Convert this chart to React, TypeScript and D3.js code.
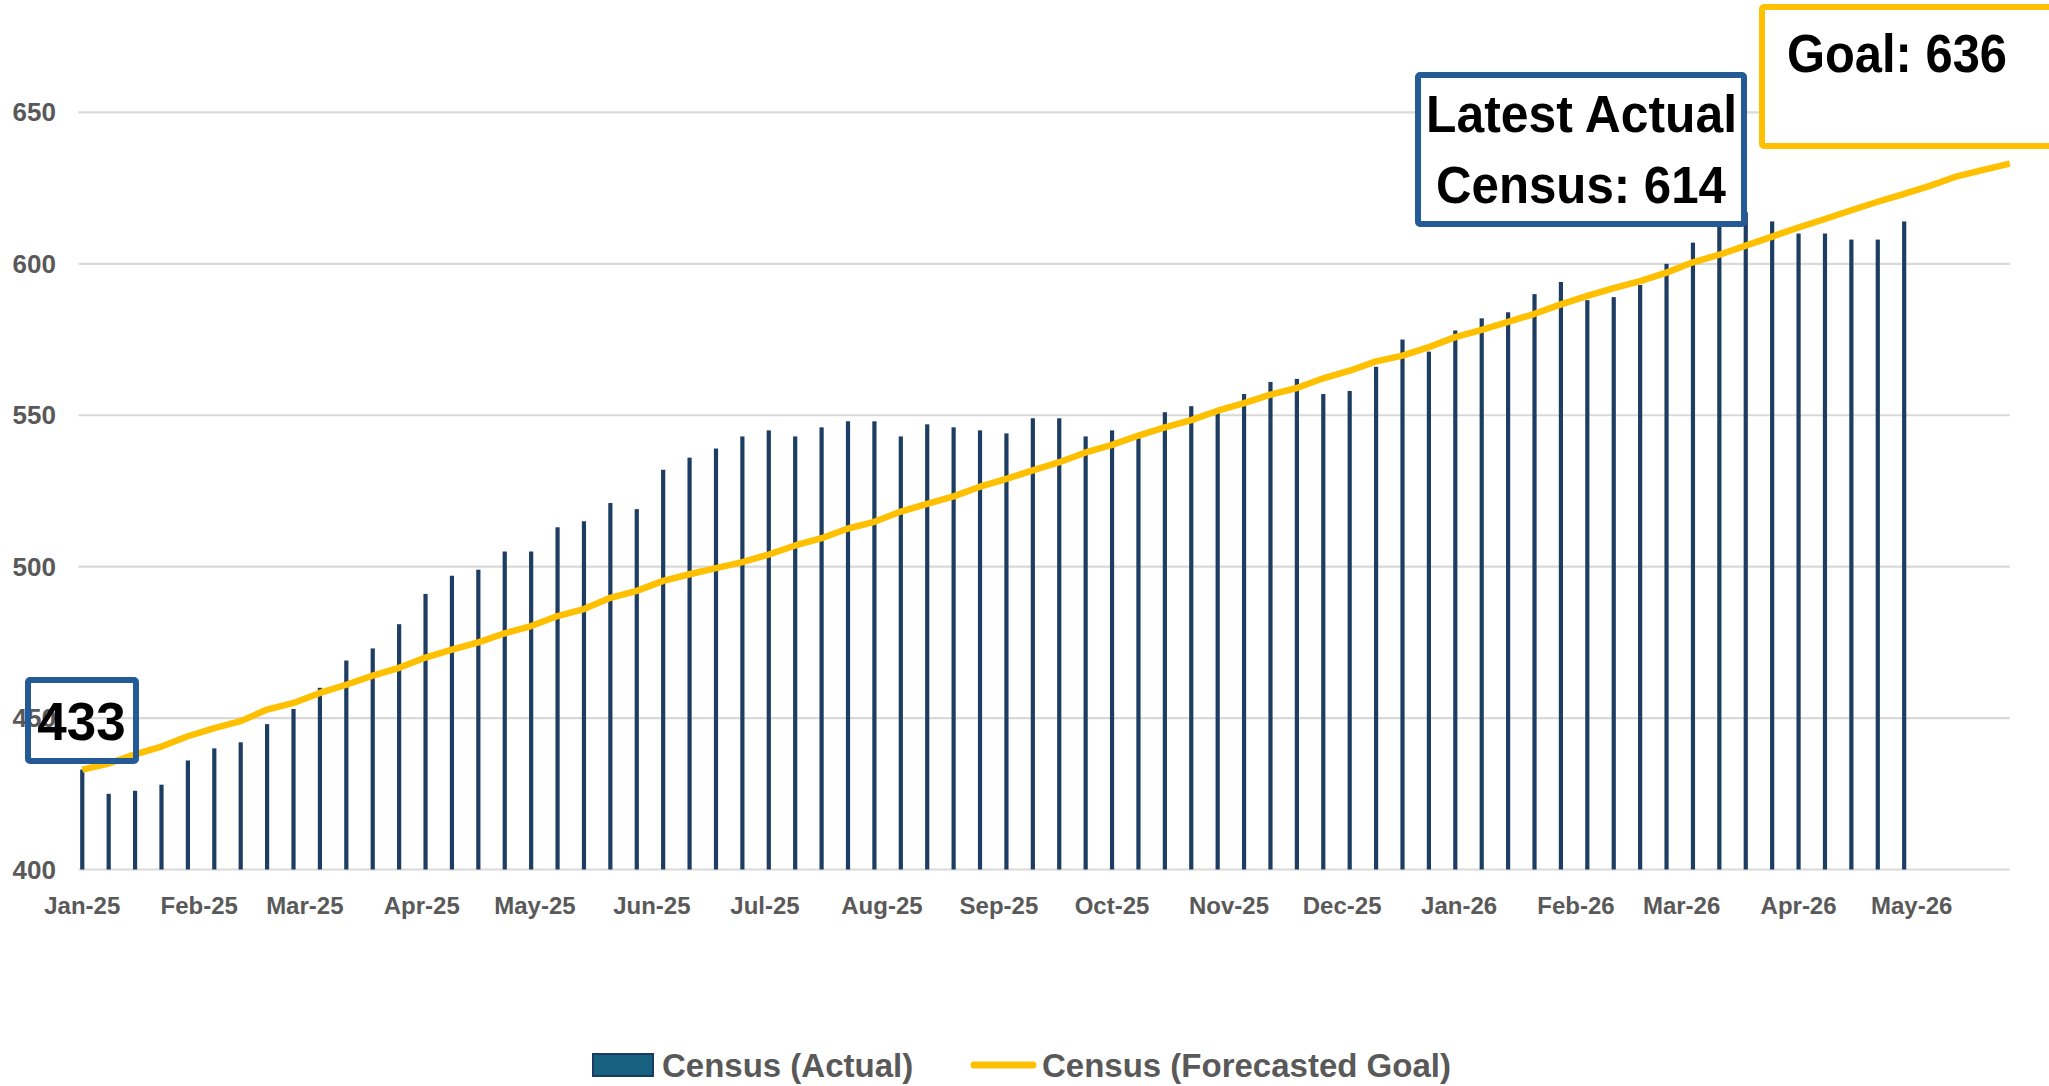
import React from "react";
import * as d3 from "d3";

const W = 2049;
const H = 1086;

// Weekly categories start (first week) and tick labels
const startDate = "2025-01-01";
const weekCount = 74;
const tickMonths = [
  "2025-01-01", "2025-02-01", "2025-03-01", "2025-04-01", "2025-05-01", "2025-06-01",
  "2025-07-01", "2025-08-01", "2025-09-01", "2025-10-01", "2025-11-01", "2025-12-01",
  "2026-01-01", "2026-02-01", "2026-03-01", "2026-04-01", "2026-05-01",
];
const tickLabels = [
  "Jan-25", "Feb-25", "Mar-25", "Apr-25", "May-25", "Jun-25", "Jul-25", "Aug-25",
  "Sep-25", "Oct-25", "Nov-25", "Dec-25", "Jan-26", "Feb-26", "Mar-26", "Apr-26", "May-26",
];
const yTicks = [400, 450, 500, 550, 600, 650];

// Census (Actual) weekly
const actual = [
  433, 425, 426, 428, 436, 440, 442, 448, 453, 460,
  469, 473, 481, 491, 497, 499, 505, 505, 513, 515,
  521, 519, 532, 536, 539, 543, 545, 543, 546, 548,
  548, 543, 547, 546, 545, 544, 549, 549, 543, 545,
  544, 551, 553, 552, 557, 561, 562, 557, 558, 566,
  575, 571, 578, 582, 584, 590, 594, 588, 589, 593,
  600, 607, 616, 617, 614, 610, 610, 608, 608, 614,
];

// Census (Forecasted Goal) weekly
const goal = [
  433, 435, 438, 440.6, 444, 446.7, 449, 452.8, 455, 458.3,
  461, 464, 466.6, 470, 472.6, 475, 478, 480.4, 483.7, 486,
  489.7, 492, 495.3, 497.5, 499.5, 501.5, 504, 507, 509.4, 512.6,
  514.8, 518.2, 520.7, 523.2, 526.4, 529, 531.8, 534.5, 537.7, 540.2,
  543.3, 546, 548.4, 551.5, 554, 556.8, 559, 562.2, 564.7, 567.8,
  569.7, 572.5, 575.8, 578.2, 580.8, 583.5, 586.6, 589.4, 592, 594.3,
  597.1, 600.5, 603, 606, 609, 612, 614.8, 617.7, 620.5, 623.1,
  625.8, 628.9, 631, 633.1,
];

const legendLabels = ["Census (Actual)", "Census (Forecasted Goal)"];
const startLabel = "433";
const latestLabel = ["Latest Actual", "Census: 614"];
const goalLabel = "Goal: 636";

const FONT = "'Liberation Sans', Arial, sans-serif";
const GRAY = "#595959";
const NAVY = "#1D3D63";
const GOLD = "#FFC000";
const BOXBLUE = "#245B97";

export default function App() {
  const parse = d3.utcParse("%Y-%m-%d");
  const d0 = parse(startDate) as Date;
  const dates = d3.range(weekCount).map((i) => d3.utcDay.offset(d0, i * 7));

  const x = d3
    .scaleUtc()
    .domain([d3.utcDay.offset(d0, -1), d3.utcDay.offset(d0, 511.3)])
    .range([78.5, 2009.8]);
  const y = d3.scaleLinear().domain([400, 650]).range([869.5, 112.4]);

  const line = d3
    .line<number>()
    .x((_, i) => x(dates[i]))
    .y((v) => y(v));

  const barW = 4.2;

  return (
    <svg
      width={W}
      height={H}
      style={{ position: "absolute", left: 0, top: 0, background: "#fff" }}
      fontFamily={FONT}
    >
      <rect x={0} y={0} width={W} height={H} fill="#fff" />
      {/* gridlines */}
      {yTicks.map((t) => (
        <line key={t} x1={78.5} x2={2009.8} y1={y(t)} y2={y(t)} stroke="#D9D9D9" strokeWidth={2.2} />
      ))}
      {/* y labels */}
      {yTicks.map((t) => (
        <text
          key={"yl" + t}
          x={56}
          y={y(t) + 9}
          textAnchor="end"
          fontSize={26}
          fontWeight="bold"
          fill={GRAY}
        >
          {t}
        </text>
      ))}
      {/* x labels */}
      {tickMonths.map((m, i) => (
        <text
          key={m}
          x={x(parse(m) as Date)}
          y={914}
          textAnchor="middle"
          fontSize={24}
          fontWeight="bold"
          fill={GRAY}
        >
          {tickLabels[i]}
        </text>
      ))}
      {/* bars */}
      {actual.map((v, i) => (
        <rect
          key={"b" + i}
          x={x(dates[i]) - barW / 2}
          y={y(v)}
          width={barW}
          height={y(400) - y(v)}
          fill={NAVY}
        />
      ))}
      {/* goal line */}
      <path
        d={line(goal) || ""}
        fill="none"
        stroke={GOLD}
        strokeWidth={6.5}
        strokeLinejoin="round"
      />
      {/* start label box */}
      <rect x={28} y={680} width={108} height={81} fill="none" stroke={BOXBLUE} strokeWidth={6} rx={2} />
      <text x={81.5} y={740} textAnchor="middle" fontSize={53} fontWeight="bold" fill="#000">
        {startLabel}
      </text>
      {/* latest actual box */}
      <rect x={1418} y={75} width={326} height={149} fill="#fff" stroke={BOXBLUE} strokeWidth={6} rx={2} />
      <text
        x={1581.5}
        y={132}
        textAnchor="middle"
        fontSize={51}
        fontWeight="bold"
        fill="#000"
        textLength={311}
        lengthAdjust="spacingAndGlyphs"
      >
        {latestLabel[0]}
      </text>
      <text
        x={1581}
        y={202.5}
        textAnchor="middle"
        fontSize={51}
        fontWeight="bold"
        fill="#000"
        textLength={290}
        lengthAdjust="spacingAndGlyphs"
      >
        {latestLabel[1]}
      </text>
      {/* goal box */}
      <rect x={1762} y={7} width={320} height={139} fill="#fff" stroke={GOLD} strokeWidth={6} rx={2} />
      <text
        x={1787}
        y={71.5}
        fontSize={53}
        fontWeight="bold"
        fill="#000"
        textLength={220}
        lengthAdjust="spacingAndGlyphs"
      >
        {goalLabel}
      </text>
      {/* legend */}
      <rect x={593} y={1054} width={60} height={22} fill="#17607F" stroke="#1B3A5E" strokeWidth={2} />
      <text x={662} y={1077} fontSize={33} fontWeight="bold" fill={GRAY}>
        {legendLabels[0]}
      </text>
      <line x1={974} x2={1033} y1={1065} y2={1065} stroke={GOLD} strokeWidth={7} strokeLinecap="round" />
      <text x={1042} y={1077} fontSize={33} fontWeight="bold" fill={GRAY}>
        {legendLabels[1]}
      </text>
    </svg>
  );
}
